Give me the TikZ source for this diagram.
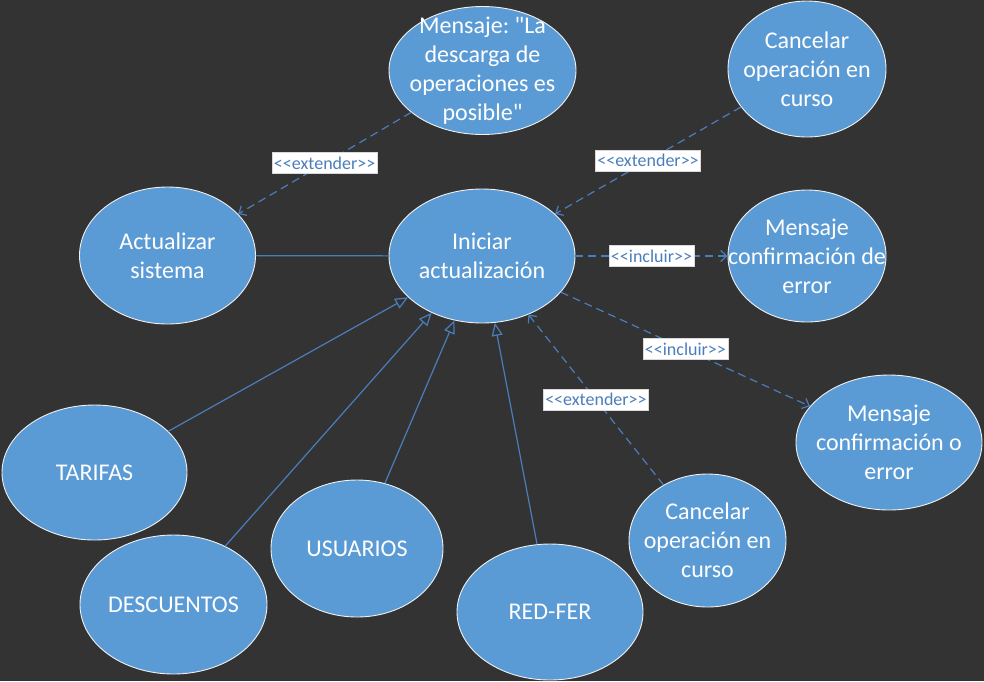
\documentclass[tikz,border=0pt]{standalone}
\usepackage{fontspec}
\setmainfont{Carlito}[Ligatures=TeXOff]
\usetikzlibrary{shapes.geometric,arrows.meta}
\definecolor{bg}{RGB}{51,51,51}
\definecolor{ucfill}{RGB}{91,155,213}
\definecolor{lnblue}{RGB}{74,126,187}
\frenchspacing
\newcommand\ucase[6]{%
  \node[uc, minimum width=#3pt, minimum height=#4pt] (#1) at (#2) {};
  \node[uctext] (#1-t) at (#1.center) {#5};}
\begin{document}
\begin{tikzpicture}[x=1pt,y=-1pt,
  uc/.style={ellipse, fill=ucfill, draw=white!88!gray, line width=0.9pt, inner sep=0pt},
  uctext/.style={text=white, align=center, font=\fontsize{24}{29}\selectfont, inner sep=0pt},
  lnk/.style={draw=lnblue, line width=1.2pt},
  dep/.style={lnk, dash pattern=on 8pt off 5pt, -{Straight Barb[length=6pt,width=11pt,line width=1.2pt]}},
  gen/.style={lnk, -{Triangle[open,length=13pt,width=11pt,line width=1.2pt,fill=bg]}},
  lbl/.style={solid, fill=white, draw=gray!30, line width=0.6pt, text=lnblue, font=\fontsize{18}{20}\selectfont, inner xsep=2pt, inner ysep=1pt, minimum height=21pt}]
\fill[bg] (0,0) rectangle (984,681);
\useasboundingbox (0,0) rectangle (984,681);
\ucase{msg}{482.5,70.5}{187}{128}{Mensaje: "La\\descarga de\\operaciones es\\posible"}{}
\ucase{canA}{807,69}{158}{136}{Cancelar\\operación en\\curso}{}
\ucase{act}{167.5,255.5}{176}{137}{Actualizar\\sistema}{}
\ucase{ini}{482,256}{186}{134}{Iniciar\\actualización}{}
\ucase{mce}{807,256}{158}{132}{Mensaje\\confirmación de\\error}{}
\ucase{mco}{889,442.5}{186}{135}{Mensaje\\confirmación o\\error}{}
\ucase{tar}{94.5,472.5}{185}{135}{TARIFAS}{}
\ucase{des}{173.5,604.5}{187}{139}{DESCUENTOS}{}
\ucase{usu}{357,548.5}{172}{137}{USUARIOS}{}
\ucase{red}{550,612}{186}{136}{RED-FER}{}
\ucase{canB}{707.5,540.5}{157}{133}{Cancelar\\operación en\\curso}{}
\draw[lnk] (act) -- (ini);
\draw[dep] (msg) -- node[lbl] (l1) {<<extender>>} (act);
\draw[dep] (canA) -- node[lbl] (l2) {<<extender>>} (ini);
\draw[dep] (ini) -- node[lbl] (l3) {<<incluir>>} (mce);
\draw[dep] (ini) -- node[lbl] (l4) {<<incluir>>} (mco);
\draw[dep] (canB) -- node[lbl] (l5) {<<extender>>} (ini);
\draw[gen] (tar) -- (ini);
\draw[gen] (des) -- (ini);
\draw[gen] (usu) -- (ini);
\draw[gen] (red) -- (ini);
\end{tikzpicture}
\end{document}
